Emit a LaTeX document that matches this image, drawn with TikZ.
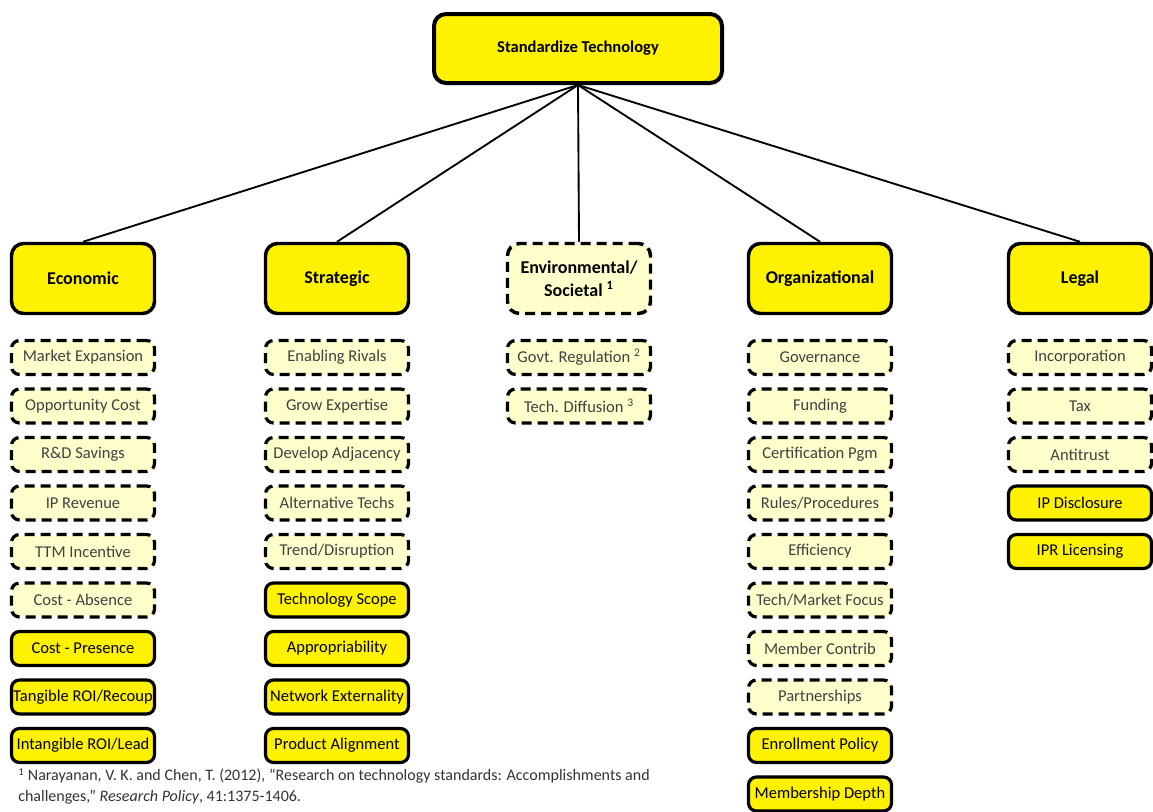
\documentclass[tikz,border=0pt]{standalone}
\usepackage{fontspec}
\setmainfont{Carlito}
\begin{document}
\begin{tikzpicture}[x=0.75pt,y=-0.75pt,line join=round,
  topbox/.style={draw,fill=yellow,line width=3pt,rounded corners=9pt,minimum width=216pt,minimum height=51.75pt,font=\fontsize{12.4}{15}\selectfont\bfseries},
  headbox/.style={draw,fill=yellow,line width=2.6pt,rounded corners=9pt,minimum width=107.25pt,minimum height=52.5pt,font=\fontsize{13.5}{17}\selectfont\bfseries,align=center},
  softhead/.style={headbox,fill=paleyellow,dash pattern=on 7.5pt off 4.5pt},
  solidbox/.style={draw,fill=yellow,line width=2.4pt,rounded corners=6pt,minimum width=107.25pt,minimum height=25.5pt,inner sep=1pt,font=\fontsize{12.4}{15}\selectfont},
  softbox/.style={solidbox,fill=paleyellow,text=itemgrey,dash pattern=on 7.5pt off 4.5pt},
  link/.style={line width=1.4pt}]
\definecolor{paleyellow}{HTML}{FFFFCC}
\definecolor{itemgrey}{HTML}{404040}
\useasboundingbox (0,0) rectangle (1153,811);

\node[topbox] (std) at (578,48.5) {Standardize Technology};

% categories
\node[headbox] (eco) at (83,278.5) {Economic};
\node[headbox] (str) at (337,278.5) {Strategic};
\node[softhead] (env) at (579,278.5) {Environmental/\\Societal \textsuperscript{1}};
\node[headbox] (org) at (820,278.5) {Organizational};
\node[headbox] (leg) at (1080,278.5) {Legal};

\draw[link](std.south)--(eco.north);
\draw[link](std.south)--(str.north);
\draw[link](std.south)--(env.north);
\draw[link](std.south)--(org.north);
\draw[link](std.south)--(leg.north);

% economic
\node[softbox] (eco1) at (83,357.5) {Market Expansion};
\node[softbox] (eco2) at (83,406) {Opportunity Cost};
\node[softbox] (eco3) at (83,454.5) {R\&D Savings};
\node[softbox] (eco4) at (83,503) {IP Revenue};
\node[softbox] (eco5) at (83,551.5) {TTM Incentive};
\node[softbox] (eco6) at (83,600) {Cost - Absence};
\node[solidbox] (eco7) at (83,648.5) {Cost - Presence};
\node[solidbox] (eco8) at (83,697) {Tangible ROI/Recoup};
\node[solidbox] (eco9) at (83,745.5) {Intangible ROI/Lead};

% strategic
\node[softbox] (str1) at (337,357.5) {Enabling Rivals};
\node[softbox] (str2) at (337,406) {Grow Expertise};
\node[softbox] (str3) at (337,454.5) {Develop Adjacency};
\node[softbox] (str4) at (337,503) {Alternative Techs};
\node[softbox] (str5) at (337,551.5) {Trend/Disruption};
\node[solidbox] (str6) at (337,600) {Technology Scope};
\node[solidbox] (str7) at (337,648.5) {Appropriability};
\node[solidbox] (str8) at (337,697) {Network Externality};
\node[solidbox] (str9) at (337,745.5) {Product Alignment};

% environmental / societal
\node[softbox] (env1) at (579,357.5) {Govt. Regulation \textsuperscript{2}};
\node[softbox] (env2) at (579,406) {Tech. Diffusion \textsuperscript{3}};

% organizational
\node[softbox] (org1) at (820,357.5) {Governance};
\node[softbox] (org2) at (820,406) {Funding};
\node[softbox] (org3) at (820,454.5) {Certification Pgm};
\node[softbox] (org4) at (820,503) {Rules/Procedures};
\node[softbox] (org5) at (820,551.5) {Efficiency};
\node[softbox] (org6) at (820,600) {Tech/Market Focus};
\node[softbox] (org7) at (820,648.5) {Member Contrib};
\node[softbox] (org8) at (820,697) {Partnerships};
\node[solidbox] (org9) at (820,745.5) {Enrollment Policy};
\node[solidbox] (org10) at (820,794) {Membership Depth};

% legal
\node[softbox] (leg1) at (1080,357.5) {Incorporation};
\node[softbox] (leg2) at (1080,406) {Tax};
\node[softbox] (leg3) at (1080,454.5) {Antitrust};
\node[solidbox] (leg4) at (1080,503) {IP Disclosure};
\node[solidbox] (leg5) at (1080,551.5) {IPR Licensing};

% footnote
\node[anchor=north west,align=left,inner sep=0pt,text=itemgrey!80!black,font=\fontsize{12}{15.5}\selectfont] (note) at (18,768)
  {\textsuperscript{1} Narayanan, V. K. and Chen, T. (2012), “Research on technology standards: Accomplishments and\\challenges,” \textit{Research Policy}, 41:1375-1406.};
\end{tikzpicture}
\end{document}
